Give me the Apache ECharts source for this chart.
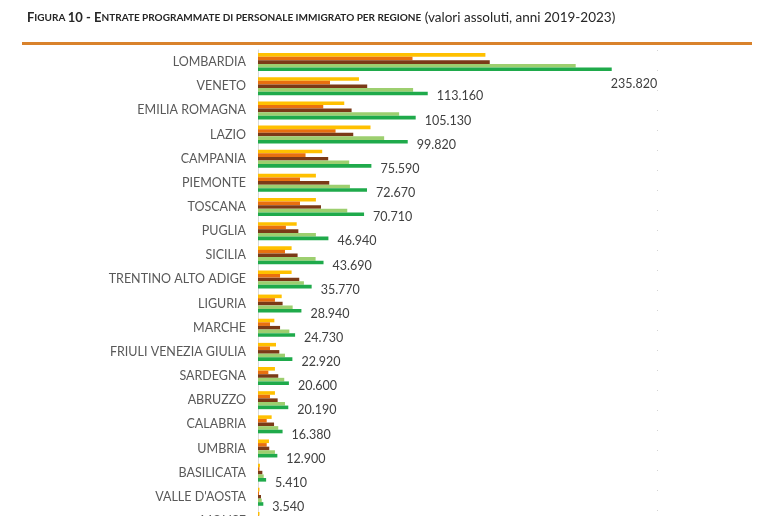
<!DOCTYPE html>
<html><head><meta charset="utf-8">
<script src="https://cdn.jsdelivr.net/npm/echarts@6/dist/echarts.min.js"></script>
<style>html,body{margin:0;padding:0;background:#fff;overflow:hidden}#c{width:774px;height:540px}</style>
</head><body><div id="c"></div>
<script>
var categories = ['LOMBARDIA','VENETO','EMILIA ROMAGNA','LAZIO','CAMPANIA','PIEMONTE','TOSCANA','PUGLIA','SICILIA','TRENTINO ALTO ADIGE','LIGURIA','MARCHE','FRIULI VENEZIA GIULIA','SARDEGNA','ABRUZZO','CALABRIA','UMBRIA','BASILICATA',"VALLE D'AOSTA",'MOLISE'];
var y2019 = [151600, 67300, 57500, 75000, 42800, 38600, 38600, 25800, 22400, 22400, 15800, 10900, 12000, 11300, 11300, 9100, 7300, 1300, 1000, 1000];
var y2020 = [103000, 48000, 43500, 51700, 31700, 28000, 28000, 18600, 18000, 14700, 11300, 8000, 8000, 6900, 8000, 5800, 5800, 1000, 700, 700];
var y2021 = [154500, 72800, 62400, 63500, 46800, 47500, 42000, 26900, 26400, 27500, 16400, 14700, 14200, 13500, 13100, 10700, 7500, 2900, 2000, 1500];
var y2022 = [211800, 103400, 94100, 84100, 60800, 61300, 59500, 38600, 38400, 30600, 23100, 20900, 18000, 17500, 18000, 13500, 11300, 3800, 2500, 2000];
var y2023 = [235820, 113160, 105130, 99820, 75590, 72670, 70710, 46940, 43690, 35770, 28940, 24730, 22920, 20600, 20190, 16380, 12900, 5410, 3540, 2500];
var seriesNames = ['2019','2020','2021','2022','2023'];
var colors = ['#FFC000','#E8700F','#7B3A17','#9DCF6F','#1FAA4B'];

function fmt(v){ return String(v).replace(/\B(?=(\d{3})+(?!\d))/g, '.'); }

var chart = echarts.init(document.getElementById('c'), null, {renderer:'canvas'});
var allData = [y2019, y2020, y2021, y2022, y2023];
var series = allData.map(function(arr, i){
  var s = {
    name: seriesNames[i], type: 'bar', data: arr.slice(), barWidth: 3.6, barGap: '0%',
    itemStyle: {color: colors[i]}, silent: true, animation: false
  };
  if (i === 4) {
    s.label = {show: true, position: 'right', offset: [4, 3], color: '#404040', fontSize: 12.5,
      fontFamily: 'Lato', formatter: function(p){ return fmt(p.value); }};
    s.data = arr.map(function(v, k){
      if (k === 0) return {value: v, label: {position: ['100%', '100%'], offset: [-1, 6]}};
      return v;
    });
  }
  return s;
});

chart.setOption({
  animation: false,
  backgroundColor: '#fff',
  title: {
    left: 22, top: 6,
    text: '{b|F}{s|IGURA }{b|10 - E}{s|NTRATE PROGRAMMATE DI PERSONALE IMMIGRATO PER REGIONE}{n| (valori assoluti, anni 2019-2023)}',
    textStyle: {
      rich: {
        b: {fontFamily: 'Lato', fontWeight: 'bold', fontSize: 13, color: '#262626'},
        s: {fontFamily: 'Lato', fontWeight: 'bold', fontSize: 10, color: '#262626'},
        n: {fontFamily: 'Lato', fontWeight: 'normal', fontSize: 13.5, color: '#262626'}
      }
    }
  },
  graphic: [{type: 'rect', left: 22, top: 42, shape: {width: 730, height: 3}, style: {fill: '#D9822B'}, silent: true}],
  grid: {left: 258, right: 117, top: 50, bottom: 7, containLabel: false},
  xAxis: {
    type: 'value', min: 0, max: 266000, interval: 266000,
    axisLabel: {show: false}, axisLine: {show: false}, axisTick: {show: false},
    splitLine: {show: true, lineStyle: {color: '#d6d6d6', type: [1, 19], width: 1}}
  },
  yAxis: {
    type: 'category', inverse: true, data: categories,
    axisLine: {show: true, lineStyle: {color: '#d9d9d9', width: 1}},
    axisTick: {show: false},
    axisLabel: {margin: 12, color: '#595959', fontSize: 12.5, fontFamily: 'Lato'}
  },
  series: series
});
</script></body></html>
